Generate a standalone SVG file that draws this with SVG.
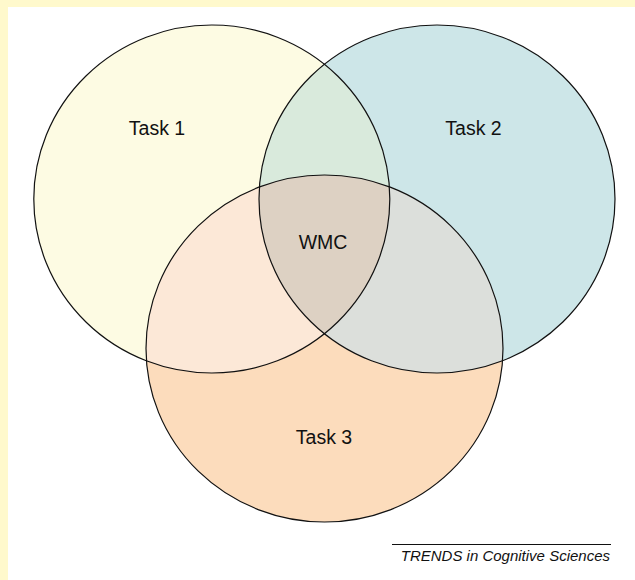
<svg xmlns="http://www.w3.org/2000/svg" xmlns:xlink="http://www.w3.org/1999/xlink" width="635" height="580" viewBox="0 0 635 580">
<style>
.outline{fill:none;stroke:#111;stroke-width:1.2}
.lbl{font-family:"Liberation Sans",Arial,sans-serif;font-size:19.5px;fill:#111;text-anchor:middle}
.credit{font-family:"Liberation Sans",Arial,sans-serif;font-size:15px;font-style:italic;fill:#111;text-anchor:end}
</style>
<defs>
<ellipse id="e1" cx="211.8" cy="199" rx="178" ry="174"/>
<ellipse id="e2" cx="437" cy="199" rx="178" ry="174"/>
<ellipse id="e3" cx="324.5" cy="348.5" rx="178.5" ry="173.5"/>
<clipPath id="k1"><use xlink:href="#e1"/></clipPath>
<clipPath id="k2"><use xlink:href="#e2"/></clipPath>
</defs>
<rect x="0" y="0" width="635" height="580" fill="#fff9cc"/>
<rect x="8" y="7" width="627" height="573" fill="#ffffff"/>
<g id="fills">
<use xlink:href="#e1" fill="#fdfbe3"/>
<use xlink:href="#e2" fill="#cde6e8"/>
<use xlink:href="#e3" fill="#fcdcbc"/>
<use xlink:href="#e2" fill="#d9eadc" clip-path="url(#k1)"/>
<use xlink:href="#e3" fill="#fce8d7" clip-path="url(#k1)"/>
<use xlink:href="#e3" fill="#dcdfdb" clip-path="url(#k2)"/>
<g clip-path="url(#k1)"><use xlink:href="#e3" fill="#ddd1c3" clip-path="url(#k2)"/></g>
</g>
<g id="connectors"/>
<g id="task1"><use xlink:href="#e1" class="outline"/><text class="lbl" x="157" y="135">Task 1</text></g>
<g id="task2"><use xlink:href="#e2" class="outline"/><text class="lbl" x="473.5" y="135">Task 2</text></g>
<g id="task3"><use xlink:href="#e3" class="outline"/><text class="lbl" x="324" y="444">Task 3</text></g>
<g id="wmc"><text class="lbl" x="323" y="249">WMC</text></g>
<g id="credit">
<line x1="392" y1="544.5" x2="611" y2="544.5" stroke="#111" stroke-width="1"/>
<text class="credit" x="610" y="561">TRENDS in Cognitive Sciences</text>
</g>
</svg>
